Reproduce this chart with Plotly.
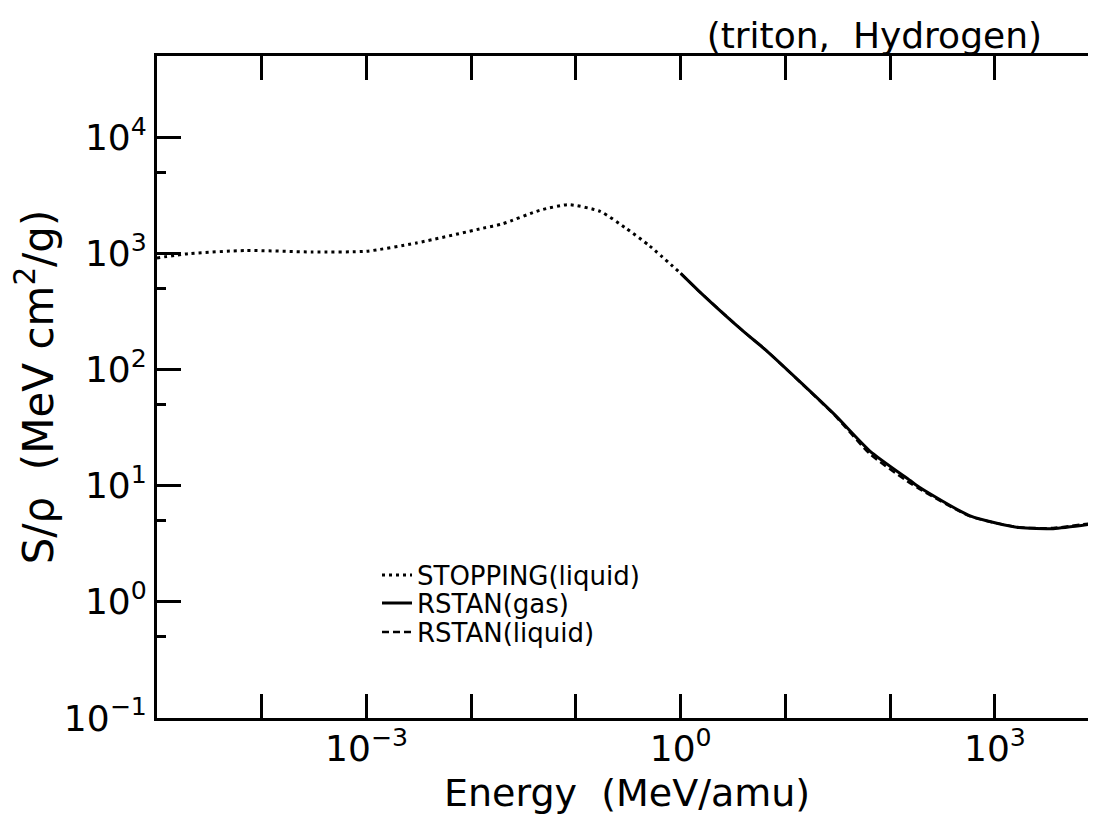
import plotly.graph_objects as go

# ---- data ----
stopping_energy = [1.0e-5, 2.0e-5, 7.0e-5, 3.0e-4, 1.0e-3, 3.0e-3, 1.3e-2, 2.0e-2, 4.5e-2, 8.5e-2, 1.7e-1, 3.0e-1, 5.0e-1, 1.0]
stopping_value = [915, 995, 1060, 1030, 1045, 1230, 1650, 1800, 2350, 2630, 2300, 1650, 1170, 673]

rstan_energy = [1.0, 1.5, 4.0, 6.5, 29, 64, 155, 190, 580, 1700, 3600, 9200]
rstan_gas_value = [673, 472, 212, 147, 41.5, 19.9, 11.1, 9.7, 5.5, 4.36, 4.27, 4.73]
rstan_liquid_value = [673, 472, 212, 147, 41.0, 18.8, 10.5, 9.4, 5.45, 4.38, 4.33, 4.82]

x_tickvals = [1e-3, 1e0, 1e3]
x_ticktext = ["10<sup>\u22123</sup>", "10<sup>0</sup>", "10<sup>3</sup>"]
x_minor = [1e-5, 1e-4, 1e-2, 1e-1, 1e1, 1e2]
y_tickvals = [1e-1, 1e0, 1e1, 1e2, 1e3, 1e4]
y_ticktext = ["10<sup>\u22121</sup>", "10<sup>0</sup>", "10<sup>1</sup>", "10<sup>2</sup>", "10<sup>3</sup>", "10<sup>4</sup>"]
y_minor = [5e-1, 5e0, 5e1, 5e2, 5e3]

FONT = "DejaVu Sans"
W, H = 1088, 807          # page has an 8px body margin
ML, MT, MB = 149, 48, 97
PW, PH = W - ML, H - MT - MB

fig = go.Figure()
fig.add_trace(go.Scatter(x=stopping_energy, y=stopping_value, mode="lines", legend="legend",
                         name="STOPPING(liquid)", line=dict(color="black", width=3, dash="3px,4px", shape="spline", smoothing=0.6)))
fig.add_trace(go.Scatter(x=rstan_energy, y=rstan_gas_value, mode="lines", legend="legend2",
                         name="RSTAN(gas)", line=dict(color="black", width=3, shape="spline", smoothing=0.6)))
fig.add_trace(go.Scatter(x=rstan_energy, y=rstan_liquid_value, mode="lines", legend="legend3",
                         name="RSTAN(liquid)", line=dict(color="black", width=2.5, dash="7px,4px", shape="spline", smoothing=0.6)))

legend_x = (369 - ML) / PW
def leg(row_center_page):
    return dict(x=legend_x, y=(MT + PH - (row_center_page - 8)) / PH, xanchor="left", yanchor="middle",
                bgcolor="rgba(0,0,0,0)", font=dict(size=26, family=FONT, color="black"))

tick_common = dict(ticks="inside", ticklen=24, tickwidth=2.5, tickcolor="black")
minor_common = dict(ticks="inside", tickwidth=2.5, tickcolor="black", showgrid=False)

fig.update_layout(
    width=W, height=H,
    margin=dict(l=ML, r=0, t=MT, b=MB),
    paper_bgcolor="white", plot_bgcolor="white",
    font=dict(family=FONT, color="black"),
    title=dict(text="(triton,  Hydrogen)", font=dict(size=36, family=FONT, color="black"),
               x=(1042 - 8) / W, xanchor="right", xref="container",
               y=1 - (35 - 8) / H, yanchor="middle", yref="container"),
    showlegend=True,
    legend=leg(575), legend2=leg(603), legend3=leg(632),
    xaxis=dict(type="log", range=[-5, 3.965], tickvals=x_tickvals, ticktext=x_ticktext,
               **tick_common,
               minor=dict(tickvals=x_minor, ticklen=24, **minor_common),
               showline=True, linewidth=3, linecolor="black", mirror="ticks",
               showgrid=False, zeroline=False, ticklabelstandoff=-3,
               tickfont=dict(size=36, family=FONT, color="black")),
    yaxis=dict(type="log", range=[-1, 4.7], tickvals=y_tickvals, ticktext=y_ticktext,
               **tick_common,
               minor=dict(tickvals=y_minor, ticklen=9, **minor_common),
               showline=True, linewidth=3, linecolor="black", mirror=False,
               showgrid=False, zeroline=False,
               tickfont=dict(size=36, family=FONT, color="black"),
               title=dict(text="S/\u03c1  (MeV cm<sup>2</sup>/g)", font=dict(size=42, family=FONT, color="black"), standoff=6)),
    yaxis2=dict(type="log", range=[-1, 4.7], overlaying="y", side="right", anchor="x",
                tickvals=y_tickvals, showticklabels=False,
                **tick_common,
                minor=dict(tickvals=y_minor, ticklen=9, **minor_common),
                showline=False, showgrid=False, zeroline=False),
    annotations=[dict(text="Energy  (MeV/amu)", xref="paper", yref="paper",
                      x=0.5, y=-(793 - 8 - (MT + PH)) / PH, xanchor="center", yanchor="middle",
                      showarrow=False, font=dict(size=38, family=FONT, color="black"))],
)

fig.write_html("out.html")
